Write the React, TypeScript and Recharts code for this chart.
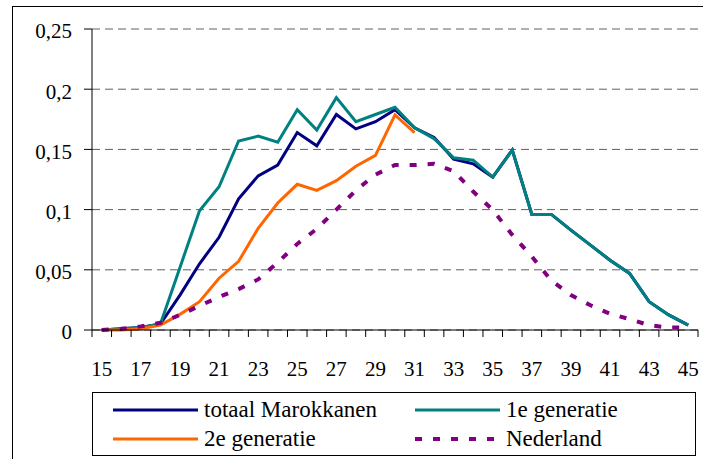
import { LineChart, Line, XAxis, YAxis, CartesianGrid } from 'recharts'

const ages = [15, 16, 17, 18, 19, 20, 21, 22, 23, 24, 25, 26, 27, 28, 29, 30, 31, 32, 33, 34, 35, 36, 37, 38, 39, 40, 41, 42, 43, 44, 45]

const totaal = [0, 0.001, 0.002, 0.005, 0.029, 0.055, 0.077, 0.109, 0.128, 0.137, 0.164, 0.153, 0.179, 0.167, 0.173, 0.183, 0.168, 0.16, 0.142, 0.138, 0.127, 0.1495, 0.096, 0.096, 0.083, 0.0705, 0.058, 0.047, 0.0235, 0.0125, 0.004]
const eerste = [0, 0.001, 0.002, 0.005, 0.052, 0.099, 0.119, 0.157, 0.161, 0.156, 0.183, 0.166, 0.193, 0.173, 0.179, 0.185, 0.168, 0.159, 0.143, 0.141, 0.127, 0.1495, 0.096, 0.096, 0.083, 0.0705, 0.058, 0.047, 0.0235, 0.0125, 0.004]
const tweede = [0, 0, 0.001, 0.004, 0.013, 0.0235, 0.043, 0.057, 0.0845, 0.1055, 0.121, 0.116, 0.124, 0.136, 0.145, 0.1786, 0.164]
const nederland = [0, 0.001, 0.003, 0.006, 0.0125, 0.02, 0.0275, 0.034, 0.042, 0.056, 0.0715, 0.084, 0.1, 0.116, 0.129, 0.137, 0.137, 0.138, 0.132, 0.115, 0.0997, 0.079, 0.061, 0.041, 0.029, 0.0205, 0.0135, 0.009, 0.004, 0.002, 0.002]

const yTicks = [0, 0.05, 0.1, 0.15, 0.2, 0.25]
const xLabels = [15, 17, 19, 21, 23, 25, 27, 29, 31, 33, 35, 37, 39, 41, 43, 45]
// tick marks sit between the ages, like a category axis
const xMarks = [...ages.map((a) => a - 0.5), ages[ages.length - 1] + 0.5]

const data = ages.map((age, i) => ({
  age,
  totaal: totaal[i],
  eerste: eerste[i],
  tweede: tweede[i] ?? null,
  nederland: nederland[i],
}))

const series = [
  { key: 'totaal', name: 'totaal Marokkanen', color: '#000080', dash: undefined },
  { key: 'eerste', name: '1e generatie', color: '#008080', dash: undefined },
  { key: 'tweede', name: '2e generatie', color: '#FF6600', dash: undefined },
  { key: 'nederland', name: 'Nederland', color: '#800080', dash: '7 11' },
]

const font = "'Liberation Serif', 'DejaVu Serif', 'Noto Serif', serif"
const domainX: [number, number] = [14.5, 45.5]

function formatY(v: number) {
  return String(v).replace('.', ',')
}

function YTick({ x, y, payload }: any) {
  return (
    <text x={x} y={y + 2} dy="0.355em" textAnchor="end" fill="#000" fontSize={21} fontFamily={font}>
      {formatY(payload.value)}
    </text>
  )
}

function LegendBox() {
  const cols = [20, 322]
  const rows = [17, 46]
  return (
    <div
      style={{
        position: 'absolute', left: 92, top: 392, width: 602, height: 62,
        border: '1px solid #000', background: '#fff', fontFamily: font, fontSize: 23, color: '#000',
      }}
    >
      {series.map((s, i) => (
        <div
          key={s.key}
          style={{
            position: 'absolute', left: cols[i % 2], top: rows[Math.floor(i / 2)] - 15,
            height: 30, display: 'flex', alignItems: 'center', whiteSpace: 'nowrap',
          }}
        >
          <svg width={85} height={8}>
            <line x1={0} y1={4} x2={85} y2={4} stroke={s.color} strokeWidth={s.dash ? 4 : 3} strokeDasharray={s.dash} />
          </svg>
          <span style={{ marginLeft: 6 }}>{s.name}</span>
        </div>
      ))}
    </div>
  )
}

export default function App() {
  return (
    <div style={{ position: 'absolute', left: 0, top: 0, width: 703, height: 459, overflow: 'hidden', background: '#fff', fontFamily: font }}>
      <div style={{ position: 'absolute', left: 12, top: 6, width: 720, height: 480, border: '1px solid #000' }} />
      <div style={{ position: 'absolute', left: 0, top: 0 }}>
        <LineChart width={703} height={459} data={data} margin={{ top: 29, right: 5, left: 0, bottom: 79 }}>
          <CartesianGrid vertical={false} stroke="#606060" strokeDasharray="8 5" />
          <XAxis
            dataKey="age" type="number" domain={domainX} ticks={xMarks} allowDataOverflow
            tickFormatter={() => ''} tickSize={7} height={10}
            axisLine={{ stroke: '#000' }} tickLine={{ stroke: '#000' }}
          />
          <XAxis
            xAxisId="lab" dataKey="age" type="number" domain={domainX} ticks={xLabels} allowDataOverflow
            axisLine={false} tickLine={false} tickSize={0} tickMargin={21} height={40} interval={0}
            tick={{ fill: '#000', fontSize: 21, fontFamily: font }}
          />
          <XAxis
            xAxisId="top" orientation="top" dataKey="age" type="number" domain={domainX} allowDataOverflow
            tick={false} tickLine={false} height={0} axisLine={{ stroke: '#808080' }}
          />
          <YAxis
            domain={[0, 0.25]} ticks={yTicks} width={92} tickSize={8} tickMargin={12} interval={0}
            axisLine={{ stroke: '#000' }} tickLine={{ stroke: '#000' }} tick={<YTick />}
          />
          <YAxis
            yAxisId="right" orientation="right" domain={[0, 0.25]} width={0}
            tick={false} tickLine={false} axisLine={{ stroke: '#808080' }}
          />
          {series.map((s) => (
            <Line
              key={s.key} dataKey={s.key} name={s.name} type="linear" stroke={s.color}
              strokeWidth={s.dash ? 4 : 3} strokeDasharray={s.dash} dot={false}
              isAnimationActive={false} connectNulls={false}
            />
          ))}
        </LineChart>
      </div>
      <LegendBox />
    </div>
  )
}
